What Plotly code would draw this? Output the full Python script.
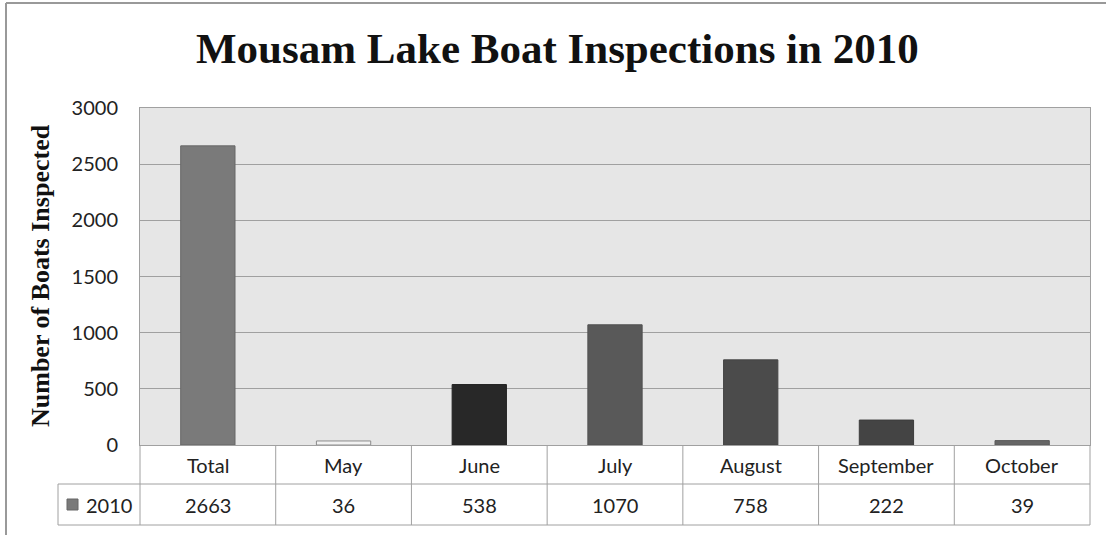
import plotly.graph_objects as go

categories = ["Total", "May", "June", "July", "August", "September", "October"]
values_2010 = [2663, 36, 538, 1070, 758, 222, 39]
series_name = "2010"
bar_colors = ["#7a7a7a", "#f2f2f2", "#282828", "#595959", "#4b4b4b", "#444444", "#666666"]
bar_lines = ["#666666", "#8c8c8c", "#222222", "#505050", "#444444", "#3c3c3c", "#5a5a5a"]
y_ticks = [0, 500, 1000, 1500, 2000, 2500, 3000]

# body margin is removed by post_script, so figure pixels == screen pixels
W, H = 1106, 535
SL, SR, ST, SB = 140, 1090, 108, 445          # plot area on screen
L, T = SL, ST
R = W - SR
B = H - SB
pw, ph = SR - SL, SB - ST

def px(x):
    return (x - SL) / pw

def py(y):
    return (SB - y) / ph

fig = go.Figure()
fig.add_trace(go.Bar(
    x=categories, y=values_2010, name=series_name,
    marker=dict(color=bar_colors, line=dict(color=bar_lines, width=1)),
    width=0.4, showlegend=False, hoverinfo="skip",
))

grid = "#a0a0a0"
shapes = []
def line(x0, y0, x1, y1, color=grid, w=1):
    shapes.append(dict(type="line", xref="paper", yref="paper",
                       x0=px(x0), y0=py(y0), x1=px(x1), y1=py(y1),
                       line=dict(color=color, width=w), layer="above"))

# data table
r1, r2 = 484, 525
leg_left = 58
n = len(categories)
line(leg_left, r1, SR, r1)
line(leg_left, r2, SR, r2)
line(leg_left, r1, leg_left, r2)
for k in range(n + 1):
    xk = SL + pw * k / n
    line(xk, SB, xk, r2)

# outer chart border
line(6, 3, 6, 560, color="#999999", w=2)
line(6, 3, 1120, 3, color="#999999", w=2)

# legend key
shapes.append(dict(type="rect", xref="paper", yref="paper",
                   x0=px(67), x1=px(78), y0=py(510), y1=py(499),
                   fillcolor=bar_colors[0], line=dict(color="#666666", width=1)))

annotations = []
font_sans = dict(family="Lato, sans-serif", size=20, color="#222222")
for c, v in zip(categories, values_2010):
    annotations.append(dict(x=c, xref="x", y=py((SB + r1) / 2), yref="paper",
                            text=c, showarrow=False, font=font_sans,
                            xanchor="center", yanchor="middle"))
    annotations.append(dict(x=c, xref="x", y=py((r1 + r2) / 2), yref="paper",
                            text=str(v), showarrow=False, font=font_sans,
                            xanchor="center", yanchor="middle"))
annotations.append(dict(x=px(84), xref="paper", y=py((r1 + r2) / 2), yref="paper",
                        text=series_name, showarrow=False, font=font_sans,
                        xanchor="left", yanchor="middle"))
annotations.append(dict(x=px(40), xref="paper", y=py(276), yref="paper",
                        text="<b>Number of Boats Inspected</b>", textangle=-90,
                        showarrow=False,
                        font=dict(family="Liberation Serif, serif", size=26, color="#111111"),
                        xanchor="center", yanchor="middle"))
annotations.append(dict(x=px(557), xref="paper", y=py(48), yref="paper",
                        text="<b>Mousam Lake Boat Inspections in 2010</b>",
                        showarrow=False,
                        font=dict(family="Liberation Serif, serif", size=43, color="#111111"),
                        xanchor="center", yanchor="middle"))

fig.update_layout(
    width=W, height=H,
    margin=dict(l=L, r=R, t=T, b=B),
    paper_bgcolor="white", plot_bgcolor="#e6e6e6",
    xaxis=dict(showticklabels=False, showgrid=False, showline=True,
               linecolor=grid, linewidth=1, mirror=True, ticks=""),
    yaxis=dict(range=[0, 3000], tickvals=y_ticks, showgrid=True, gridcolor=grid,
               gridwidth=1, showline=True, linecolor=grid, linewidth=1, mirror=True,
               ticks="", ticklabelstandoff=17, zeroline=False,
               tickfont=dict(family="Lato, sans-serif", size=20, color="#222222")),
    shapes=shapes, annotations=annotations, bargap=0.6,
)

fig.write_html("out.html", config={"displayModeBar": False},
               post_script="document.body.style.margin='0px';document.body.style.overflow='hidden';")
